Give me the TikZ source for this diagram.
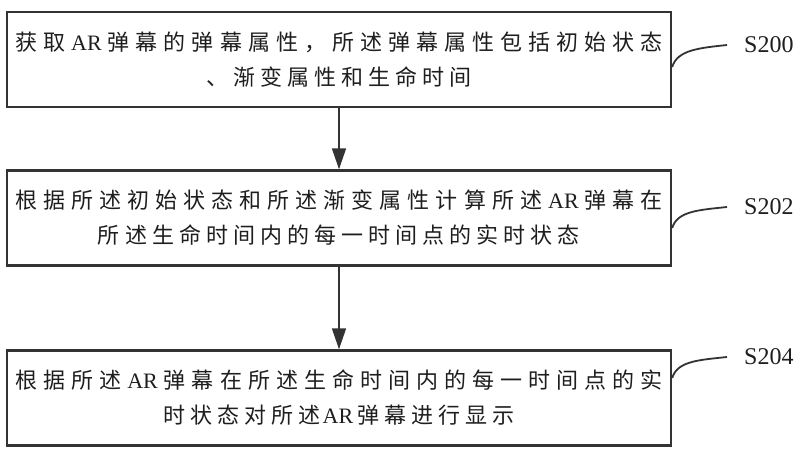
\documentclass[tikz,border=0pt]{standalone}
\usepackage{fontspec}
\setmainfont{Liberation Serif}
\newfontfamily\cjk[LetterSpace=23]{Noto Sans CJK SC}
\newfontfamily\lat{Liberation Serif}
\usetikzlibrary{arrows.meta}
\definecolor{boxc}{HTML}{333333}
\definecolor{txt}{HTML}{1E1E1E}
\makeatletter
\def\spreadline#1{\makebox[648pt][s]{\spr@B#1\relax}}
\def\spr@B#1{#1\spr@C}
\def\spr@C#1{\ifx\relax#1\else\hfill#1\expandafter\spr@C\fi}
\makeatother
\def\AR{{\lat AR}}
\tikzset{
  stepbox/.style={draw=boxc, line width=2.4pt, minimum width=664pt, minimum height=95pt,
    inner xsep=8pt, inner ysep=0pt, text width=648pt, align=center,
    font=\cjk\fontsize{22}{35}\selectfont, text=txt},
  flow/.style={draw=boxc, line width=1.6pt, -{Triangle[length=21pt,width=14pt]}},
  leader/.style={draw=boxc, line width=1.8pt},
  lbl/.style={font=\fontsize{24}{28}\selectfont, inner sep=0pt, anchor=west, text=txt}
}
\begin{document}
\begin{tikzpicture}[x=1pt,y=-1pt]
\useasboundingbox (0,0) rectangle (800,462);
\node[stepbox] (b1) at (339,59.5) {\spreadline{获取\AR 弹幕的弹幕属性，所述弹幕属性包括初始状态}\\、渐变属性和生命时间};
\node[stepbox] (b2) at (339,218) {\spreadline{根据所述初始状态和所述渐变属性计算所述\AR 弹幕在}\\所述生命时间内的每一时间点的实时状态};
\node[stepbox] (b3) at (339,398) {\spreadline{根据所述\AR 弹幕在所述生命时间内的每一时间点的实}\\时状态对所述\hspace{2pt}\AR\hspace{4pt}弹幕进行显示};
\draw[flow] (b1) -- (b2);
\draw[flow] (b2) -- (b3);
\node[lbl] (l1) at (744,45) {S200};
\node[lbl] (l2) at (744,207) {S202};
\node[lbl] (l3) at (744,357) {S204};
\coordinate (c1) at ([yshift=-7.5pt]b1.east);
\coordinate (c2) at ([yshift=-10pt]b2.east);
\coordinate (c3) at ([yshift=20pt]b3.east);
\draw[leader] (c1) .. controls +(5,-17) and +(-28,3) .. ([xshift=-17pt]l1.west);
\draw[leader] (c2) .. controls +(5,-17) and +(-28,3) .. ([xshift=-17pt]l2.west);
\draw[leader] (c3) .. controls +(5,-17) and +(-28,3) .. ([xshift=-17pt]l3.west);
\end{tikzpicture}
\end{document}
